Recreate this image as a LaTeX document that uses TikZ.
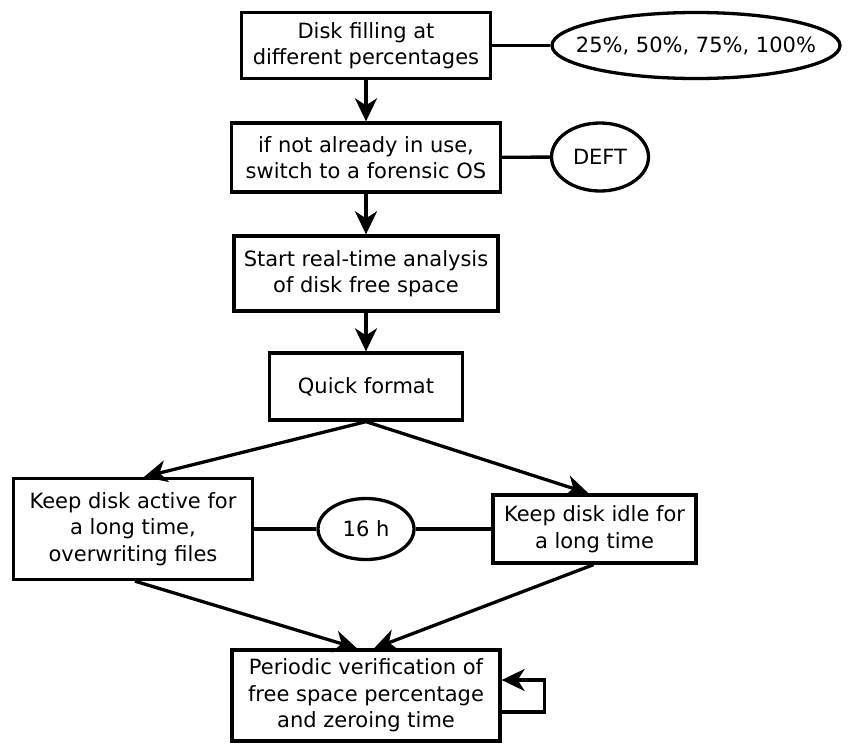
\documentclass[tikz,border=0pt]{standalone}
\usepackage{fontspec}
\setmainfont{DejaVu Sans}
\usetikzlibrary{arrows.meta,shapes.geometric}
\begin{document}
\begin{tikzpicture}[x=1pt,y=-1pt,
  every node/.style={font=\fontsize{21}{26.5}\selectfont, align=center, inner sep=0pt},
  box/.style={draw, line width=3.3pt, rectangle},
  oval/.style={draw, line width=3.3pt, ellipse},
  link/.style={line width=3.3pt},
  arr/.style={line width=3.3pt, -{Stealth[length=23pt,width=22pt,inset=7pt]}}
]
\useasboundingbox (0,0) rectangle (848,744);
\node[box, minimum width=249pt, minimum height=66pt] (b1) at (366,45.5) {Disk filling at\\different percentages};
\node[oval, minimum width=288pt, minimum height=66pt] (e1) at (696,45.5) {\makebox[0pt]{25\%, 50\%, 75\%, 100\%}};
\node[box, minimum width=269pt, minimum height=69pt] (b2) at (366,157.5) {if not already in use,\\switch to a forensic OS};
\node[oval, minimum width=97pt, minimum height=68pt] (e2) at (600,157) {\makebox[0pt]{DEFT}};
\node[box, minimum width=264pt, minimum height=75pt] (b3) at (366,273.5) {Start real-time analysis\\of disk free space};
\node[box, minimum width=193pt, minimum height=67pt] (b4) at (366,386.5) {Quick format};
\node[box, minimum width=239pt, minimum height=101pt] (b5) at (133,529) {Keep disk active for\\a long time,\\overwriting files};
\node[oval, minimum width=96pt, minimum height=61pt] (e3) at (366,529) {\makebox[0pt]{16 h}};
\node[box, minimum width=203pt, minimum height=68pt] (b6) at (594.5,529) {Keep disk idle for\\a long time};
\node[box, minimum width=268pt, minimum height=91pt] (b7) at (366,695.5) {Periodic verification of\\free space percentage\\and zeroing time};

\draw[link] (b1) -- (e1);
\draw[link] (b2) -- (e2);
\draw[link] (b5) -- (e3);
\draw[link] (e3) -- (b6);
\draw[arr] (b1.south) -- (b2.north);
\draw[arr] (b2.south) -- (b3.north);
\draw[arr] (b3.south) -- (b4.north);
\draw[arr] (b4.south) -- ([xshift=11pt]b5.north);
\draw[arr] (b4.south) -- ([xshift=-6pt]b6.north);
\draw[arr] ([xshift=2pt]b5.south) -- ([xshift=-9pt]b7.north);
\draw[arr] ([xshift=-1pt]b6.south) -- ([xshift=8pt]b7.north);
\draw[arr] ([yshift=-16.5pt]b7.east) -- ++(43,0) |- ([yshift=15.5pt]b7.east);
\end{tikzpicture}
\end{document}
